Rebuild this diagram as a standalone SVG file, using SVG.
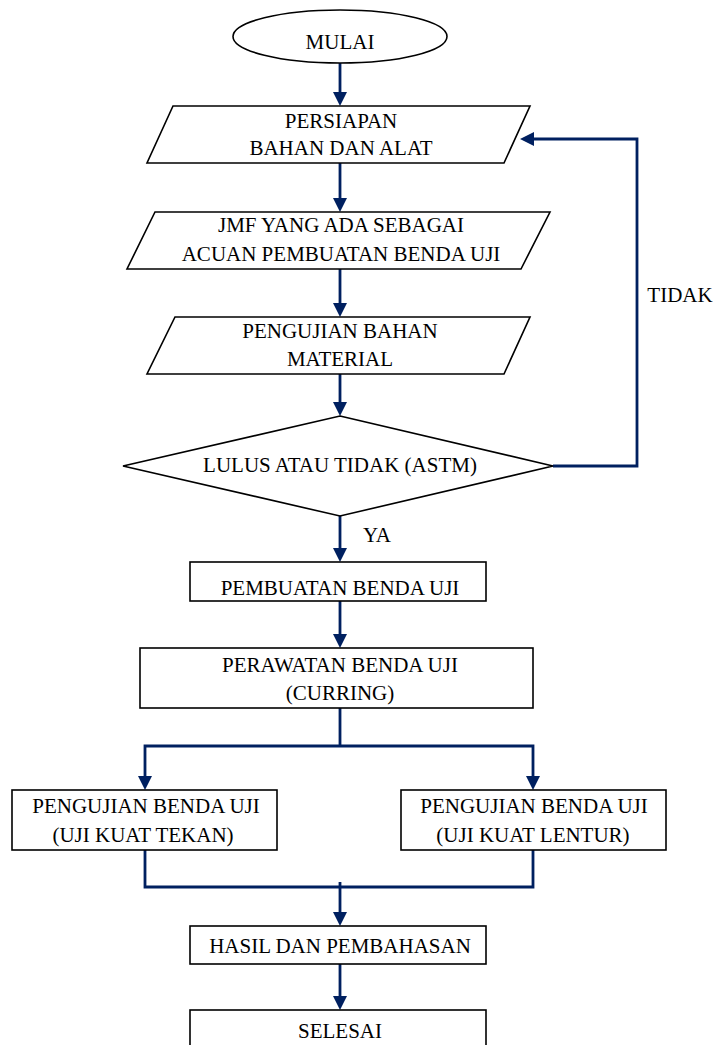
<svg xmlns="http://www.w3.org/2000/svg" width="718" height="1045" viewBox="0 0 718 1045">
<style>
.shape{fill:#fff;stroke:#000;stroke-width:1.6}
.t{font-family:"Liberation Serif","Times New Roman",serif;font-size:21px;fill:#000;text-anchor:middle}
.c{fill:none;stroke:#002060;stroke-width:2.8}
.a{marker-end:url(#ah)}
</style>
<defs>
<marker id="ah" markerUnits="userSpaceOnUse" markerWidth="14" markerHeight="14" refX="6" refY="7" orient="auto">
<path d="M0,0 L14,7 L0,14 z" fill="#002060"/>
</marker>
</defs>
<rect width="718" height="1045" fill="#fff"/>
<g id="connectors">
<line class="c a" x1="340" y1="63" x2="340" y2="98"/>
<line class="c a" x1="340" y1="163" x2="340" y2="204"/>
<line class="c a" x1="340" y1="269" x2="340" y2="309"/>
<line class="c a" x1="340" y1="374" x2="340" y2="408"/>
<line class="c a" x1="340" y1="516" x2="340" y2="554"/>
<line class="c a" x1="340" y1="601" x2="340" y2="640"/>
<polyline class="c a" points="553,466 637,466 637,139 528,139"/>
<polyline class="c" points="340,708 340,746"/>
<polyline class="c a" points="340,746 145,746 145,782"/>
<polyline class="c a" points="340,746 533,746 533,782"/>
<polyline class="c" points="145,850 145,887 533,887 533,850"/>
<line class="c a" x1="340" y1="882" x2="340" y2="918"/>
<line class="c a" x1="340" y1="964" x2="340" y2="1002"/>
</g>
<g id="mulai">
<ellipse class="shape" cx="340" cy="36.5" rx="107" ry="26.5"/>
<text class="t" x="340" y="49">MULAI</text>
</g>
<g id="persiapan">
<polygon class="shape" points="173,106 530,106 504,163 147,163"/>
<text class="t" x="341" y="128">PERSIAPAN</text>
<text class="t" x="341" y="155">BAHAN DAN ALAT</text>
</g>
<g id="jmf">
<polygon class="shape" points="155,212 550,212 521,269 127,269"/>
<text class="t" x="341" y="232">JMF YANG ADA SEBAGAI</text>
<text class="t" x="341" y="261">ACUAN PEMBUATAN BENDA UJI</text>
</g>
<g id="pengujian-bahan">
<polygon class="shape" points="175,317 530,317 504,374 147,374"/>
<text class="t" x="340" y="338">PENGUJIAN BAHAN</text>
<text class="t" x="340" y="366">MATERIAL</text>
</g>
<g id="lulus">
<polygon class="shape" points="340,416 553,466 340,516 123,466"/>
<text class="t" x="340" y="472">LULUS ATAU TIDAK (ASTM)</text>
</g>
<g id="labels">
<text class="t" x="377" y="542">YA</text>
<text class="t" x="680" y="302">TIDAK</text>
</g>
<g id="pembuatan">
<rect class="shape" x="190" y="562" width="296" height="39"/>
<text class="t" x="340" y="595">PEMBUATAN BENDA UJI</text>
</g>
<g id="perawatan">
<rect class="shape" x="140" y="648" width="393" height="60"/>
<text class="t" x="340" y="672">PERAWATAN BENDA UJI</text>
<text class="t" x="340" y="700">(CURRING)</text>
</g>
<g id="uji-tekan">
<rect class="shape" x="12" y="790" width="265" height="60"/>
<text class="t" x="146" y="813">PENGUJIAN BENDA UJI</text>
<text class="t" x="143" y="842">(UJI KUAT TEKAN)</text>
</g>
<g id="uji-lentur">
<rect class="shape" x="401" y="790" width="265" height="60"/>
<text class="t" x="534" y="813">PENGUJIAN BENDA UJI</text>
<text class="t" x="533" y="842">(UJI KUAT LENTUR)</text>
</g>
<g id="hasil">
<rect class="shape" x="190" y="926" width="296" height="38"/>
<text class="t" x="340" y="953">HASIL DAN PEMBAHASAN</text>
</g>
<g id="selesai">
<rect class="shape" x="190" y="1010" width="296" height="50"/>
<text class="t" x="340" y="1038">SELESAI</text>
</g>
</svg>
